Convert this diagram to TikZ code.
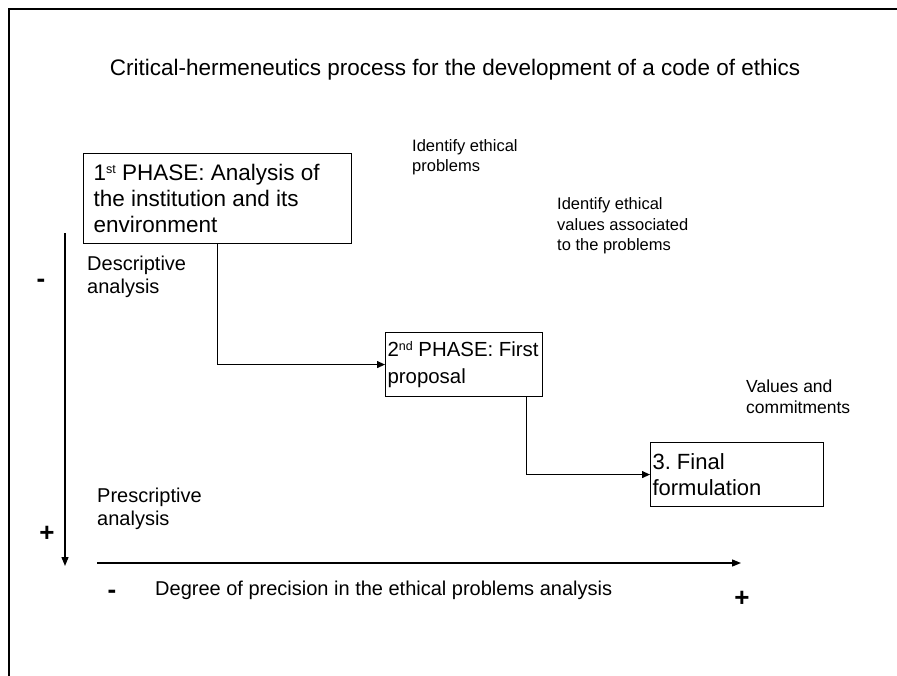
\documentclass[tikz,border=0pt]{standalone}
\usepackage{fontspec}
\setmainfont{Liberation Sans}
\usetikzlibrary{arrows.meta}
\newcommand{\supx}[1]{\raisebox{0.62ex}{\fontsize{12.5}{12.5}\selectfont #1}}
\frenchspacing
\begin{document}
\begin{tikzpicture}[x=1pt,y=-1pt,
  phasebox/.style={draw, line width=1.1pt, rectangle, align=flush left, anchor=north west,
    font=\fontsize{22}{26}\selectfont, inner ysep=0pt},
  smalltxt/.style={anchor=west, align=left, inner sep=0pt, font=\fontsize{16.5}{20.5}\selectfont},
  midtxt/.style={anchor=west, align=left, inner sep=0pt, font=\fontsize{20}{22.5}\selectfont},
  signtxt/.style={inner sep=0pt, font=\fontsize{26}{26}\selectfont\bfseries},
  arr/.style={line width=1.1pt, -{Triangle[length=8pt,width=7pt]}},
  axis/.style={line width=1.3pt, -{Triangle[length=9pt,width=7pt]}}]
\useasboundingbox (0,0) rectangle (897,675);
% frame
\draw[line width=2pt] (9,676) -- (9,9) -- (898,9);
% title
\node[inner sep=0pt, anchor=base, font=\fontsize{22.5}{26}\selectfont] (title) at (455,75)
  {Critical-hermeneutics process for the development of a code of ethics};
% boxes
\node[phasebox, text width=248pt, inner xsep=10pt, minimum height=90pt,
  font=\fontsize{22.5}{26}\selectfont] (p1) at (83,153)
  {1\supx{st} PHASE: Analysis of\\the institution and its\\environment};
\node[phasebox, text width=153pt, inner xsep=2pt, minimum height=64pt,
  font=\fontsize{20.4}{27}\selectfont] (p2) at (385,332)
  {\mbox{2\supx{nd} PHASE: First}\\proposal};
\node[phasebox, text width=169pt, inner xsep=2pt, minimum height=64pt] (p3) at (650,442)
  {3. Final\\formulation};
% side texts
\node[smalltxt] (t1) at (412,157) {Identify ethical\\problems};
\node[smalltxt] (t2) at (557,226) {Identify ethical\\values associated\\to the problems};
\node[smalltxt, font=\fontsize{17.5}{21}\selectfont] (t3) at (746,396.5) {Values and\\commitments};
\node[midtxt] (d1) at (87,277) {Descriptive\\analysis};
\node[midtxt] (d2) at (97,509) {Prescriptive\\analysis};
\node[midtxt] (d3) at (155,590) {Degree of precision in the ethical problems analysis};
% signs
\node[signtxt] (m1) at (41,283) {-};
\node[signtxt] (s1) at (47,534) {+};
\node[signtxt] (m2) at (112,594) {-};
\node[signtxt] (s2) at (742,599) {+};
% connectors
\draw[arr] (p1.south) |- (p2.west);
\draw[arr] ([xshift=62.5pt]p2.south) |- (p3.west);
% axes
\coordinate (vtop) at (65,233);
\coordinate (vbot) at (65,566);
\coordinate (hleft) at (97,563);
\coordinate (hright) at (741,563);
\draw[axis] (vtop) -- (vbot);
\draw[axis] (hleft) -- (hright);
\end{tikzpicture}
\end{document}
